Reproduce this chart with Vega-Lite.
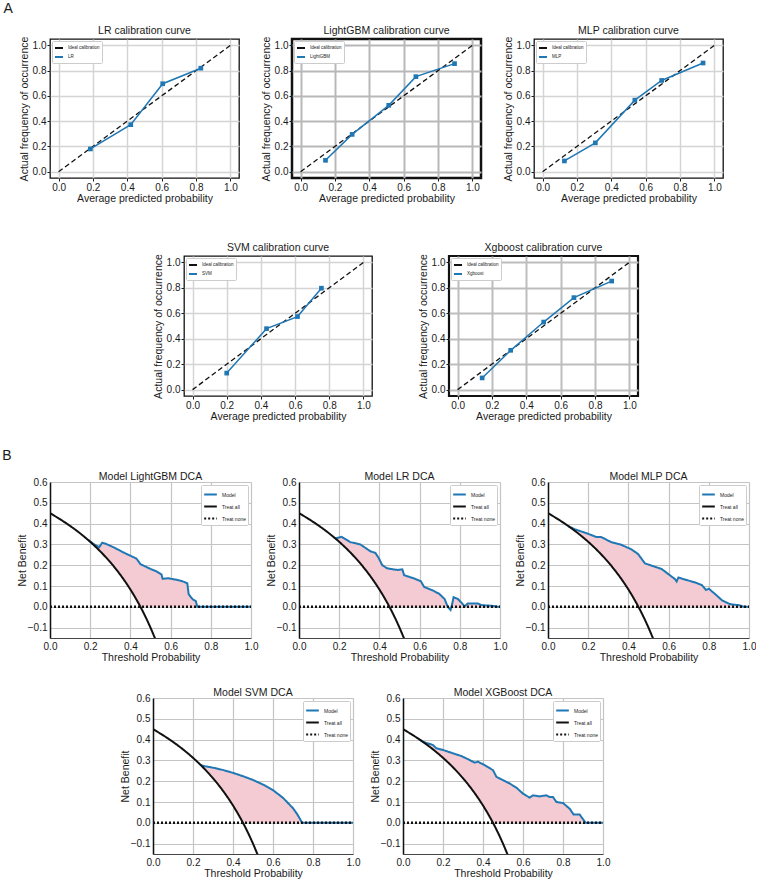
{
  "$schema": "https://vega.github.io/schema/vega-lite/v6.json",
  "padding": {"left": 2, "top": 2, "right": 0, "bottom": 0},
  "config": {
    "font": "Liberation Sans",
    "view": {"stroke": null},
    "title": {"fontSize": 10.5, "fontWeight": "normal", "color": "#1a1a1a", "offset": 3, "dy": 3, "frame": "group"},
    "axis": {
      "labelFontSize": 10, "labelColor": "#1a1a1a", "titleFontSize": 10.5, "titleFontWeight": "normal",
      "titleColor": "#1a1a1a", "tickColor": "#1a1a1a", "tickSize": 3, "labelPadding": 1,
      "gridColor": "#d0d0d0", "gridWidth": 1.3, "domain": false, "labelFlush": false, "labelOverlap": false
    },
    "axisY": {"titlePadding": 3},
    "axisX": {"titlePadding": 1},
    "legend": {
      "labelFontSize": 4.5, "labelColor": "#222222", "symbolType": "stroke", "symbolStrokeWidth": 2,
      "padding": 2, "rowPadding": 0, "strokeColor": "#cccccc", "fillColor": "white", "offset": 2,
      "cornerRadius": 1, "labelLimit": 200, "symbolSize": 64
    }
  },
  "datasets": {
    "ideal": [{"p": 0, "f": 0}, {"p": 1, "f": 1}],
    "cal_lr": [{"p": 0.185, "f": 0.18}, {"p": 0.42, "f": 0.372}, {"p": 0.606, "f": 0.696}, {"p": 0.828, "f": 0.819}],
    "cal_lgbm": [{"p": 0.145, "f": 0.09}, {"p": 0.3, "f": 0.295}, {"p": 0.513, "f": 0.525}, {"p": 0.671, "f": 0.752}, {"p": 0.896, "f": 0.855}],
    "cal_mlp": [{"p": 0.127, "f": 0.085}, {"p": 0.307, "f": 0.228}, {"p": 0.537, "f": 0.566}, {"p": 0.693, "f": 0.722}, {"p": 0.934, "f": 0.86}],
    "cal_svm": [{"p": 0.2, "f": 0.13}, {"p": 0.433, "f": 0.479}, {"p": 0.614, "f": 0.574}, {"p": 0.754, "f": 0.797}],
    "cal_xgb": [{"p": 0.143, "f": 0.092}, {"p": 0.309, "f": 0.309}, {"p": 0.501, "f": 0.531}, {"p": 0.677, "f": 0.723}, {"p": 0.897, "f": 0.853}],
    "treatall": [
      {"t": 0, "nb": 0.45}, {"t": 0.02, "nb": 0.4388}, {"t": 0.04, "nb": 0.4271}, {"t": 0.06, "nb": 0.4149},
      {"t": 0.08, "nb": 0.4022}, {"t": 0.1, "nb": 0.3889}, {"t": 0.12, "nb": 0.375}, {"t": 0.14, "nb": 0.3605},
      {"t": 0.16, "nb": 0.3452}, {"t": 0.18, "nb": 0.3293}, {"t": 0.2, "nb": 0.3125}, {"t": 0.22, "nb": 0.2949},
      {"t": 0.24, "nb": 0.2763}, {"t": 0.26, "nb": 0.2568}, {"t": 0.28, "nb": 0.2361}, {"t": 0.3, "nb": 0.2143},
      {"t": 0.32, "nb": 0.1912}, {"t": 0.34, "nb": 0.1667}, {"t": 0.36, "nb": 0.1406}, {"t": 0.38, "nb": 0.1129},
      {"t": 0.4, "nb": 0.0833}, {"t": 0.42, "nb": 0.0517}, {"t": 0.44, "nb": 0.0179}, {"t": 0.46, "nb": -0.0185},
      {"t": 0.48, "nb": -0.0577}, {"t": 0.5, "nb": -0.1}, {"t": 0.52, "nb": -0.1458}, {"t": 0.53, "nb": -0.1702}
    ],
    "treatnone": [{"t": 0, "nb": 0}, {"t": 1, "nb": 0}],
    "dca_lgbm": [
      {"t": 0.19, "nb": 0.321, "base": 0.321}, {"t": 0.22, "nb": 0.3, "base": 0.2949}, {"t": 0.245, "nb": 0.287, "base": 0.2715},
      {"t": 0.26, "nb": 0.308, "base": 0.2568}, {"t": 0.28, "nb": 0.302, "base": 0.2361}, {"t": 0.325, "nb": 0.282, "base": 0.1852},
      {"t": 0.36, "nb": 0.264, "base": 0.1406}, {"t": 0.39, "nb": 0.25, "base": 0.0984}, {"t": 0.43, "nb": 0.232, "base": 0.0351},
      {"t": 0.45, "nb": 0.205, "base": 0}, {"t": 0.5, "nb": 0.182, "base": 0}, {"t": 0.53, "nb": 0.17, "base": 0},
      {"t": 0.555, "nb": 0.155, "base": 0}, {"t": 0.56, "nb": 0.135, "base": 0}, {"t": 0.59, "nb": 0.137, "base": 0},
      {"t": 0.64, "nb": 0.128, "base": 0}, {"t": 0.667, "nb": 0.12, "base": 0}, {"t": 0.683, "nb": 0.113, "base": 0},
      {"t": 0.69, "nb": 0.06, "base": 0}, {"t": 0.71, "nb": 0.036, "base": 0}, {"t": 0.725, "nb": 0.028, "base": 0},
      {"t": 0.733, "nb": 0, "base": 0}, {"t": 1, "nb": 0, "base": 0}
    ],
    "dca_lr": [
      {"t": 0.18, "nb": 0.329, "base": 0.3293}, {"t": 0.213, "nb": 0.336, "base": 0.3011}, {"t": 0.255, "nb": 0.311, "base": 0.2617},
      {"t": 0.305, "nb": 0.3, "base": 0.2086}, {"t": 0.355, "nb": 0.267, "base": 0.1473}, {"t": 0.38, "nb": 0.259, "base": 0.1129},
      {"t": 0.397, "nb": 0.234, "base": 0.0879}, {"t": 0.414, "nb": 0.2, "base": 0.0614}, {"t": 0.439, "nb": 0.185, "base": 0.0196},
      {"t": 0.45, "nb": 0.183, "base": 0}, {"t": 0.49, "nb": 0.177, "base": 0}, {"t": 0.514, "nb": 0.18, "base": 0},
      {"t": 0.523, "nb": 0.152, "base": 0}, {"t": 0.573, "nb": 0.136, "base": 0}, {"t": 0.606, "nb": 0.123, "base": 0},
      {"t": 0.623, "nb": 0.095, "base": 0}, {"t": 0.665, "nb": 0.079, "base": 0}, {"t": 0.698, "nb": 0.062, "base": 0},
      {"t": 0.724, "nb": 0.038, "base": 0}, {"t": 0.74, "nb": 0, "base": 0}, {"t": 0.754, "nb": -0.015, "base": 0},
      {"t": 0.762, "nb": 0.013, "base": 0}, {"t": 0.769, "nb": 0.046, "base": 0}, {"t": 0.79, "nb": 0.038, "base": 0},
      {"t": 0.807, "nb": 0.021, "base": 0}, {"t": 0.824, "nb": 0.002, "base": 0}, {"t": 0.84, "nb": 0.016, "base": 0},
      {"t": 0.89, "nb": 0.016, "base": 0}, {"t": 0.908, "nb": 0.008, "base": 0}, {"t": 0.958, "nb": 0.005, "base": 0},
      {"t": 0.99, "nb": 0, "base": 0}, {"t": 1, "nb": 0, "base": 0}
    ],
    "dca_mlp": [
      {"t": 0.1, "nb": 0.389, "base": 0.3889}, {"t": 0.13, "nb": 0.374, "base": 0.3678}, {"t": 0.197, "nb": 0.352, "base": 0.3151},
      {"t": 0.239, "nb": 0.336, "base": 0.2773}, {"t": 0.264, "nb": 0.336, "base": 0.2527}, {"t": 0.314, "nb": 0.311, "base": 0.1983},
      {"t": 0.365, "nb": 0.298, "base": 0.1339}, {"t": 0.415, "nb": 0.276, "base": 0.0598}, {"t": 0.448, "nb": 0.254, "base": 0.0036},
      {"t": 0.482, "nb": 0.209, "base": 0}, {"t": 0.515, "nb": 0.198, "base": 0}, {"t": 0.565, "nb": 0.182, "base": 0},
      {"t": 0.599, "nb": 0.157, "base": 0}, {"t": 0.632, "nb": 0.133, "base": 0}, {"t": 0.64, "nb": 0.122, "base": 0},
      {"t": 0.649, "nb": 0.141, "base": 0}, {"t": 0.674, "nb": 0.133, "base": 0}, {"t": 0.732, "nb": 0.117, "base": 0},
      {"t": 0.766, "nb": 0.104, "base": 0}, {"t": 0.786, "nb": 0.081, "base": 0}, {"t": 0.8, "nb": 0.087, "base": 0},
      {"t": 0.833, "nb": 0.06, "base": 0}, {"t": 0.866, "nb": 0.031, "base": 0}, {"t": 0.9, "nb": 0.015, "base": 0},
      {"t": 0.916, "nb": 0.011, "base": 0}, {"t": 0.95, "nb": 0.008, "base": 0}, {"t": 0.975, "nb": 0, "base": 0},
      {"t": 1, "nb": 0, "base": 0}
    ],
    "dca_svm": [
      {"t": 0.24, "nb": 0.2763, "base": 0.2763}, {"t": 0.26, "nb": 0.272, "base": 0.2568}, {"t": 0.3, "nb": 0.265, "base": 0.2143},
      {"t": 0.35, "nb": 0.254, "base": 0.1538}, {"t": 0.4, "nb": 0.24, "base": 0.0833}, {"t": 0.45, "nb": 0.224, "base": 0},
      {"t": 0.5, "nb": 0.206, "base": 0}, {"t": 0.55, "nb": 0.184, "base": 0}, {"t": 0.6, "nb": 0.157, "base": 0},
      {"t": 0.65, "nb": 0.12, "base": 0}, {"t": 0.7, "nb": 0.07, "base": 0}, {"t": 0.72, "nb": 0.043, "base": 0},
      {"t": 0.74, "nb": 0.01, "base": 0}, {"t": 0.745, "nb": 0, "base": 0}, {"t": 1, "nb": 0, "base": 0}
    ],
    "dca_xgb": [
      {"t": 0.08, "nb": 0.402, "base": 0.4022}, {"t": 0.1, "nb": 0.389, "base": 0.3889}, {"t": 0.15, "nb": 0.374, "base": 0.3529},
      {"t": 0.167, "nb": 0.358, "base": 0.3397}, {"t": 0.2, "nb": 0.35, "base": 0.3125}, {"t": 0.25, "nb": 0.334, "base": 0.2667},
      {"t": 0.292, "nb": 0.321, "base": 0.2232}, {"t": 0.333, "nb": 0.302, "base": 0.1754}, {"t": 0.358, "nb": 0.289, "base": 0.1433},
      {"t": 0.375, "nb": 0.294, "base": 0.12}, {"t": 0.408, "nb": 0.277, "base": 0.071}, {"t": 0.45, "nb": 0.253, "base": 0},
      {"t": 0.467, "nb": 0.221, "base": 0}, {"t": 0.5, "nb": 0.205, "base": 0}, {"t": 0.533, "nb": 0.189, "base": 0},
      {"t": 0.567, "nb": 0.169, "base": 0}, {"t": 0.6, "nb": 0.14, "base": 0}, {"t": 0.633, "nb": 0.121, "base": 0},
      {"t": 0.65, "nb": 0.132, "base": 0}, {"t": 0.683, "nb": 0.127, "base": 0}, {"t": 0.717, "nb": 0.132, "base": 0},
      {"t": 0.733, "nb": 0.124, "base": 0}, {"t": 0.75, "nb": 0.124, "base": 0}, {"t": 0.767, "nb": 0.1, "base": 0},
      {"t": 0.8, "nb": 0.095, "base": 0}, {"t": 0.833, "nb": 0.068, "base": 0}, {"t": 0.853, "nb": 0.04, "base": 0},
      {"t": 0.883, "nb": 0.04, "base": 0}, {"t": 0.913, "nb": 0, "base": 0}, {"t": 1, "nb": 0, "base": 0}
    ]
  },
  "resolve": {
    "scale": {"x": "independent", "y": "independent", "color": "independent", "strokeDash": "independent"},
    "axis": {"x": "independent", "y": "independent"},
    "legend": {"color": "independent", "strokeDash": "independent"}
  },
  "spacing": 25,
  "vconcat": [
    {
      "title": {"text": "A", "anchor": "start", "frame": "bounds", "fontSize": 14, "fontWeight": "normal", "offset": 8, "dx": -15, "dy": 0},
      "resolve": {
        "scale": {"x": "independent", "y": "independent", "color": "independent", "strokeDash": "independent"},
        "axis": {"x": "independent", "y": "independent"},
        "legend": {"color": "independent", "strokeDash": "independent"}
      },
      "spacing": 37,
      "vconcat": [
        {
          "bounds": "flush",
          "spacing": 53,
          "resolve": {
            "scale": {"x": "independent", "y": "independent", "color": "independent", "strokeDash": "independent"},
            "axis": {"x": "independent", "y": "independent"},
            "legend": {"color": "independent", "strokeDash": "independent"}
          },
          "hconcat": [
            {
              "width": 189, "height": 139,
              "title": "LR calibration curve",
              "view": {"stroke": "#111111", "strokeWidth": 1.3},
              "layer": [
                {
                  "data": {"name": "ideal"},
                  "mark": {"type": "line", "strokeDash": [5, 3], "strokeWidth": 1.3},
                  "encoding": {
                    "x": {"field": "p", "type": "quantitative", "scale": {"domain": [-0.05, 1.05], "nice": false, "zero": false},
                      "axis": {"title": "Average predicted probability", "values": [0, 0.2, 0.4, 0.6, 0.8, 1], "tickCount": 12, "format": ".1f", "gridColor": "#d4d4d4", "gridWidth": 1.5}},
                    "y": {"field": "f", "type": "quantitative", "scale": {"domain": [-0.05, 1.05], "nice": false, "zero": false},
                      "axis": {"title": "Actual frequency of occurrence", "values": [0, 0.2, 0.4, 0.6, 0.8, 1], "tickCount": 12, "format": ".1f", "gridColor": "#d4d4d4", "gridWidth": 1.5}},
                    "color": {"datum": "Ideal calibration", "scale": {"domain": ["Ideal calibration", "LR"], "range": ["#111111", "#1f77b4"]},
                      "legend": {"title": null, "orient": "top-left"}}
                  }
                },
                {
                  "data": {"name": "cal_lr"},
                  "mark": {"type": "line", "strokeWidth": 1.5, "point": {"shape": "square", "size": 22, "filled": true}},
                  "encoding": {
                    "x": {"field": "p", "type": "quantitative"},
                    "y": {"field": "f", "type": "quantitative"},
                    "color": {"datum": "LR"}
                  }
                }
              ]
            },
            {
              "width": 189, "height": 139,
              "title": "LightGBM calibration curve",
              "view": {"stroke": "#111111", "strokeWidth": 2.5},
              "layer": [
                {
                  "data": {"name": "ideal"},
                  "mark": {"type": "line", "strokeDash": [5, 3], "strokeWidth": 1.3},
                  "encoding": {
                    "x": {"field": "p", "type": "quantitative", "scale": {"domain": [-0.05, 1.05], "nice": false, "zero": false},
                      "axis": {"title": "Average predicted probability", "values": [0, 0.2, 0.4, 0.6, 0.8, 1], "tickCount": 12, "format": ".1f", "gridColor": "#b8b8b8", "gridWidth": 2}},
                    "y": {"field": "f", "type": "quantitative", "scale": {"domain": [-0.05, 1.05], "nice": false, "zero": false},
                      "axis": {"title": "Actual frequency of occurrence", "values": [0, 0.2, 0.4, 0.6, 0.8, 1], "tickCount": 12, "format": ".1f", "gridColor": "#b8b8b8", "gridWidth": 2}},
                    "color": {"datum": "Ideal calibration", "scale": {"domain": ["Ideal calibration", "LightGBM"], "range": ["#111111", "#1f77b4"]},
                      "legend": {"title": null, "orient": "top-left"}}
                  }
                },
                {
                  "data": {"name": "cal_lgbm"},
                  "mark": {"type": "line", "strokeWidth": 1.5, "point": {"shape": "square", "size": 22, "filled": true}},
                  "encoding": {
                    "x": {"field": "p", "type": "quantitative"},
                    "y": {"field": "f", "type": "quantitative"},
                    "color": {"datum": "LightGBM"}
                  }
                }
              ]
            },
            {
              "width": 189, "height": 139,
              "title": "MLP calibration curve",
              "view": {"stroke": "#111111", "strokeWidth": 1.3},
              "layer": [
                {
                  "data": {"name": "ideal"},
                  "mark": {"type": "line", "strokeDash": [5, 3], "strokeWidth": 1.3},
                  "encoding": {
                    "x": {"field": "p", "type": "quantitative", "scale": {"domain": [-0.05, 1.05], "nice": false, "zero": false},
                      "axis": {"title": "Average predicted probability", "values": [0, 0.2, 0.4, 0.6, 0.8, 1], "tickCount": 12, "format": ".1f", "gridColor": "#d4d4d4", "gridWidth": 1.5}},
                    "y": {"field": "f", "type": "quantitative", "scale": {"domain": [-0.05, 1.05], "nice": false, "zero": false},
                      "axis": {"title": "Actual frequency of occurrence", "values": [0, 0.2, 0.4, 0.6, 0.8, 1], "tickCount": 12, "format": ".1f", "gridColor": "#d4d4d4", "gridWidth": 1.5}},
                    "color": {"datum": "Ideal calibration", "scale": {"domain": ["Ideal calibration", "MLP"], "range": ["#111111", "#1f77b4"]},
                      "legend": {"title": null, "orient": "top-left"}}
                  }
                },
                {
                  "data": {"name": "cal_mlp"},
                  "mark": {"type": "line", "strokeWidth": 1.5, "point": {"shape": "square", "size": 22, "filled": true}},
                  "encoding": {
                    "x": {"field": "p", "type": "quantitative"},
                    "y": {"field": "f", "type": "quantitative"},
                    "color": {"datum": "MLP"}
                  }
                }
              ]
            }
          ]
        },
        {
          "bounds": "flush",
          "spacing": 77,
          "resolve": {
            "scale": {"x": "independent", "y": "independent", "color": "independent", "strokeDash": "independent"},
            "axis": {"x": "independent", "y": "independent"},
            "legend": {"color": "independent", "strokeDash": "independent"}
          },
          "hconcat": [
            {
              "width": 57, "height": 140,
              "view": {"stroke": "transparent"},
              "data": {"values": [{}]},
              "mark": {"type": "point", "opacity": 0}
            },
            {
              "width": 188, "height": 140,
              "title": "SVM calibration curve",
              "view": {"stroke": "#111111", "strokeWidth": 1.3},
              "layer": [
                {
                  "data": {"name": "ideal"},
                  "mark": {"type": "line", "strokeDash": [5, 3], "strokeWidth": 1.3},
                  "encoding": {
                    "x": {"field": "p", "type": "quantitative", "scale": {"domain": [-0.05, 1.05], "nice": false, "zero": false},
                      "axis": {"title": "Average predicted probability", "values": [0, 0.2, 0.4, 0.6, 0.8, 1], "tickCount": 12, "format": ".1f", "gridColor": "#d4d4d4", "gridWidth": 1.5}},
                    "y": {"field": "f", "type": "quantitative", "scale": {"domain": [-0.05, 1.05], "nice": false, "zero": false},
                      "axis": {"title": "Actual frequency of occurrence", "values": [0, 0.2, 0.4, 0.6, 0.8, 1], "tickCount": 12, "format": ".1f", "gridColor": "#d4d4d4", "gridWidth": 1.5}},
                    "color": {"datum": "Ideal calibration", "scale": {"domain": ["Ideal calibration", "SVM"], "range": ["#111111", "#1f77b4"]},
                      "legend": {"title": null, "orient": "top-left"}}
                  }
                },
                {
                  "data": {"name": "cal_svm"},
                  "mark": {"type": "line", "strokeWidth": 1.5, "point": {"shape": "square", "size": 22, "filled": true}},
                  "encoding": {
                    "x": {"field": "p", "type": "quantitative"},
                    "y": {"field": "f", "type": "quantitative"},
                    "color": {"datum": "SVM"}
                  }
                }
              ]
            },
            {
              "width": 189, "height": 140,
              "title": "Xgboost calibration curve",
              "view": {"stroke": "#111111", "strokeWidth": 2.2},
              "layer": [
                {
                  "data": {"name": "ideal"},
                  "mark": {"type": "line", "strokeDash": [5, 3], "strokeWidth": 1.3},
                  "encoding": {
                    "x": {"field": "p", "type": "quantitative", "scale": {"domain": [-0.05, 1.05], "nice": false, "zero": false},
                      "axis": {"title": "Average predicted probability", "values": [0, 0.2, 0.4, 0.6, 0.8, 1], "tickCount": 12, "format": ".1f", "gridColor": "#bdbdbd", "gridWidth": 2}},
                    "y": {"field": "f", "type": "quantitative", "scale": {"domain": [-0.05, 1.05], "nice": false, "zero": false},
                      "axis": {"title": "Actual frequency of occurrence", "values": [0, 0.2, 0.4, 0.6, 0.8, 1], "tickCount": 12, "format": ".1f", "gridColor": "#bdbdbd", "gridWidth": 2}},
                    "color": {"datum": "Ideal calibration", "scale": {"domain": ["Ideal calibration", "Xgboost"], "range": ["#111111", "#1f77b4"]},
                      "legend": {"title": null, "orient": "top-left"}}
                  }
                },
                {
                  "data": {"name": "cal_xgb"},
                  "mark": {"type": "line", "strokeWidth": 1.5, "point": {"shape": "square", "size": 22, "filled": true}},
                  "encoding": {
                    "x": {"field": "p", "type": "quantitative"},
                    "y": {"field": "f", "type": "quantitative"},
                    "color": {"datum": "Xgboost"}
                  }
                }
              ]
            }
          ]
        }
      ]
    },
    {
      "title": {"text": "B", "anchor": "start", "frame": "bounds", "fontSize": 14, "fontWeight": "normal", "offset": 9, "dx": -15, "dy": 0},
      "resolve": {
        "scale": {"x": "independent", "y": "independent", "color": "independent", "strokeDash": "independent"},
        "axis": {"x": "independent", "y": "independent"},
        "legend": {"color": "independent", "strokeDash": "independent"}
      },
      "spacing": 24,
      "vconcat": [
        {
          "bounds": "flush",
          "spacing": 48,
          "resolve": {
            "scale": {"x": "independent", "y": "independent", "color": "independent", "strokeDash": "independent"},
            "axis": {"x": "independent", "y": "independent"},
            "legend": {"color": "independent", "strokeDash": "independent"}
          },
          "hconcat": [
            {
              "width": 201, "height": 156,
              "title": {"text": "Model LightGBM DCA", "offset": 1, "dy": 6},
              "layer": [
                {
                  "data": {"name": "dca_lgbm"},
                  "mark": {"type": "area", "color": "#f4cbd3"},
                  "encoding": {
                    "x": {"field": "t", "type": "quantitative", "scale": {"domain": [0, 1], "nice": false},
                      "axis": {"title": "Threshold Probability", "values": [0, 0.2, 0.4, 0.6, 0.8, 1], "tickCount": 12, "format": ".1f", "tickSize": 0, "labelPadding": 3, "titlePadding": 1, "gridColor": "#c4c4c4", "gridWidth": 1.2, "domain": true, "domainColor": "#444444", "domainWidth": 1.2}},
                    "y": {"field": "nb", "type": "quantitative", "scale": {"domain": [-0.15, 0.6], "nice": false, "zero": false},
                      "axis": {"title": "Net Benefit", "values": [-0.1, 0, 0.1, 0.2, 0.3, 0.4, 0.5, 0.6], "tickCount": 12, "format": ".1f", "tickSize": 0, "labelPadding": 3, "titlePadding": 0, "gridColor": "#c4c4c4", "gridWidth": 1.2, "domain": true, "domainColor": "#111111", "domainWidth": 1.5}},
                    "y2": {"field": "base"}
                  }
                },
                {
                  "data": {"name": "dca_lgbm"},
                  "mark": {"type": "line", "strokeWidth": 2},
                  "encoding": {
                    "x": {"field": "t", "type": "quantitative"},
                    "y": {"field": "nb", "type": "quantitative"},
                    "color": {"datum": "Model", "scale": {"domain": ["Model", "Treat all", "Treat none"], "range": ["#1f77b4", "#111111", "#111111"]},
                      "legend": {"title": null, "orient": "top-right", "labelFontSize": 5, "symbolSize": 160, "offset": 3}},
                    "strokeDash": {"datum": "Model", "scale": {"domain": ["Model", "Treat all", "Treat none"], "range": [[1, 0], [1, 0], [2, 2]]},
                      "legend": {"title": null, "orient": "top-right", "labelFontSize": 5, "symbolSize": 160, "offset": 3}}
                  }
                },
                {
                  "data": {"name": "treatall"},
                  "mark": {"type": "line", "strokeWidth": 2, "clip": true},
                  "encoding": {
                    "x": {"field": "t", "type": "quantitative"},
                    "y": {"field": "nb", "type": "quantitative"},
                    "color": {"datum": "Treat all"},
                    "strokeDash": {"datum": "Treat all"}
                  }
                },
                {
                  "data": {"name": "treatnone"},
                  "mark": {"type": "line", "strokeWidth": 2.5},
                  "encoding": {
                    "x": {"field": "t", "type": "quantitative"},
                    "y": {"field": "nb", "type": "quantitative"},
                    "color": {"datum": "Treat none"},
                    "strokeDash": {"datum": "Treat none"}
                  }
                }
              ]
            },
            {
              "width": 201, "height": 156,
              "title": {"text": "Model LR DCA", "offset": 1, "dy": 6},
              "layer": [
                {
                  "data": {"name": "dca_lr"},
                  "mark": {"type": "area", "color": "#f4cbd3"},
                  "encoding": {
                    "x": {"field": "t", "type": "quantitative", "scale": {"domain": [0, 1], "nice": false},
                      "axis": {"title": "Threshold Probability", "values": [0, 0.2, 0.4, 0.6, 0.8, 1], "tickCount": 12, "format": ".1f", "tickSize": 0, "labelPadding": 3, "titlePadding": 1, "gridColor": "#c4c4c4", "gridWidth": 1.2, "domain": true, "domainColor": "#444444", "domainWidth": 1.2}},
                    "y": {"field": "nb", "type": "quantitative", "scale": {"domain": [-0.15, 0.6], "nice": false, "zero": false},
                      "axis": {"title": "Net Benefit", "values": [-0.1, 0, 0.1, 0.2, 0.3, 0.4, 0.5, 0.6], "tickCount": 12, "format": ".1f", "tickSize": 0, "labelPadding": 3, "titlePadding": 0, "gridColor": "#c4c4c4", "gridWidth": 1.2, "domain": true, "domainColor": "#111111", "domainWidth": 1.5}},
                    "y2": {"field": "base"}
                  }
                },
                {
                  "data": {"name": "dca_lr"},
                  "mark": {"type": "line", "strokeWidth": 2},
                  "encoding": {
                    "x": {"field": "t", "type": "quantitative"},
                    "y": {"field": "nb", "type": "quantitative"},
                    "color": {"datum": "Model", "scale": {"domain": ["Model", "Treat all", "Treat none"], "range": ["#1f77b4", "#111111", "#111111"]},
                      "legend": {"title": null, "orient": "top-right", "labelFontSize": 5, "symbolSize": 160, "offset": 3}},
                    "strokeDash": {"datum": "Model", "scale": {"domain": ["Model", "Treat all", "Treat none"], "range": [[1, 0], [1, 0], [2, 2]]},
                      "legend": {"title": null, "orient": "top-right", "labelFontSize": 5, "symbolSize": 160, "offset": 3}}
                  }
                },
                {
                  "data": {"name": "treatall"},
                  "mark": {"type": "line", "strokeWidth": 2, "clip": true},
                  "encoding": {
                    "x": {"field": "t", "type": "quantitative"},
                    "y": {"field": "nb", "type": "quantitative"},
                    "color": {"datum": "Treat all"},
                    "strokeDash": {"datum": "Treat all"}
                  }
                },
                {
                  "data": {"name": "treatnone"},
                  "mark": {"type": "line", "strokeWidth": 2.5},
                  "encoding": {
                    "x": {"field": "t", "type": "quantitative"},
                    "y": {"field": "nb", "type": "quantitative"},
                    "color": {"datum": "Treat none"},
                    "strokeDash": {"datum": "Treat none"}
                  }
                }
              ]
            },
            {
              "width": 201, "height": 156,
              "title": {"text": "Model MLP DCA", "offset": 1, "dy": 6},
              "layer": [
                {
                  "data": {"name": "dca_mlp"},
                  "mark": {"type": "area", "color": "#f4cbd3"},
                  "encoding": {
                    "x": {"field": "t", "type": "quantitative", "scale": {"domain": [0, 1], "nice": false},
                      "axis": {"title": "Threshold Probability", "values": [0, 0.2, 0.4, 0.6, 0.8, 1], "tickCount": 12, "format": ".1f", "tickSize": 0, "labelPadding": 3, "titlePadding": 1, "gridColor": "#c4c4c4", "gridWidth": 1.2, "domain": true, "domainColor": "#444444", "domainWidth": 1.2}},
                    "y": {"field": "nb", "type": "quantitative", "scale": {"domain": [-0.15, 0.6], "nice": false, "zero": false},
                      "axis": {"title": "Net Benefit", "values": [-0.1, 0, 0.1, 0.2, 0.3, 0.4, 0.5, 0.6], "tickCount": 12, "format": ".1f", "tickSize": 0, "labelPadding": 3, "titlePadding": 0, "gridColor": "#c4c4c4", "gridWidth": 1.2, "domain": true, "domainColor": "#111111", "domainWidth": 1.5}},
                    "y2": {"field": "base"}
                  }
                },
                {
                  "data": {"name": "dca_mlp"},
                  "mark": {"type": "line", "strokeWidth": 2},
                  "encoding": {
                    "x": {"field": "t", "type": "quantitative"},
                    "y": {"field": "nb", "type": "quantitative"},
                    "color": {"datum": "Model", "scale": {"domain": ["Model", "Treat all", "Treat none"], "range": ["#1f77b4", "#111111", "#111111"]},
                      "legend": {"title": null, "orient": "top-right", "labelFontSize": 5, "symbolSize": 160, "offset": 3}},
                    "strokeDash": {"datum": "Model", "scale": {"domain": ["Model", "Treat all", "Treat none"], "range": [[1, 0], [1, 0], [2, 2]]},
                      "legend": {"title": null, "orient": "top-right", "labelFontSize": 5, "symbolSize": 160, "offset": 3}}
                  }
                },
                {
                  "data": {"name": "treatall"},
                  "mark": {"type": "line", "strokeWidth": 2, "clip": true},
                  "encoding": {
                    "x": {"field": "t", "type": "quantitative"},
                    "y": {"field": "nb", "type": "quantitative"},
                    "color": {"datum": "Treat all"},
                    "strokeDash": {"datum": "Treat all"}
                  }
                },
                {
                  "data": {"name": "treatnone"},
                  "mark": {"type": "line", "strokeWidth": 2.5},
                  "encoding": {
                    "x": {"field": "t", "type": "quantitative"},
                    "y": {"field": "nb", "type": "quantitative"},
                    "color": {"datum": "Treat none"},
                    "strokeDash": {"datum": "Treat none"}
                  }
                }
              ]
            }
          ]
        },
        {
          "bounds": "flush",
          "spacing": 50,
          "resolve": {
            "scale": {"x": "independent", "y": "independent", "color": "independent", "strokeDash": "independent"},
            "axis": {"x": "independent", "y": "independent"},
            "legend": {"color": "independent", "strokeDash": "independent"}
          },
          "hconcat": [
            {
              "width": 53, "height": 156,
              "view": {"stroke": "transparent"},
              "data": {"values": [{}]},
              "mark": {"type": "point", "opacity": 0}
            },
            {
              "width": 200, "height": 156,
              "title": {"text": "Model SVM DCA", "offset": 1, "dy": 6},
              "layer": [
                {
                  "data": {"name": "dca_svm"},
                  "mark": {"type": "area", "color": "#f4cbd3"},
                  "encoding": {
                    "x": {"field": "t", "type": "quantitative", "scale": {"domain": [0, 1], "nice": false},
                      "axis": {"title": "Threshold Probability", "values": [0, 0.2, 0.4, 0.6, 0.8, 1], "tickCount": 12, "format": ".1f", "tickSize": 0, "labelPadding": 3, "titlePadding": 1, "gridColor": "#c4c4c4", "gridWidth": 1.2, "domain": true, "domainColor": "#444444", "domainWidth": 1.2}},
                    "y": {"field": "nb", "type": "quantitative", "scale": {"domain": [-0.15, 0.6], "nice": false, "zero": false},
                      "axis": {"title": "Net Benefit", "values": [-0.1, 0, 0.1, 0.2, 0.3, 0.4, 0.5, 0.6], "tickCount": 12, "format": ".1f", "tickSize": 0, "labelPadding": 3, "titlePadding": 0, "gridColor": "#c4c4c4", "gridWidth": 1.2, "domain": true, "domainColor": "#111111", "domainWidth": 1.5}},
                    "y2": {"field": "base"}
                  }
                },
                {
                  "data": {"name": "dca_svm"},
                  "mark": {"type": "line", "strokeWidth": 2},
                  "encoding": {
                    "x": {"field": "t", "type": "quantitative"},
                    "y": {"field": "nb", "type": "quantitative"},
                    "color": {"datum": "Model", "scale": {"domain": ["Model", "Treat all", "Treat none"], "range": ["#1f77b4", "#111111", "#111111"]},
                      "legend": {"title": null, "orient": "top-right", "labelFontSize": 5, "symbolSize": 160, "offset": 3}},
                    "strokeDash": {"datum": "Model", "scale": {"domain": ["Model", "Treat all", "Treat none"], "range": [[1, 0], [1, 0], [2, 2]]},
                      "legend": {"title": null, "orient": "top-right", "labelFontSize": 5, "symbolSize": 160, "offset": 3}}
                  }
                },
                {
                  "data": {"name": "treatall"},
                  "mark": {"type": "line", "strokeWidth": 2, "clip": true},
                  "encoding": {
                    "x": {"field": "t", "type": "quantitative"},
                    "y": {"field": "nb", "type": "quantitative"},
                    "color": {"datum": "Treat all"},
                    "strokeDash": {"datum": "Treat all"}
                  }
                },
                {
                  "data": {"name": "treatnone"},
                  "mark": {"type": "line", "strokeWidth": 2.5},
                  "encoding": {
                    "x": {"field": "t", "type": "quantitative"},
                    "y": {"field": "nb", "type": "quantitative"},
                    "color": {"datum": "Treat none"},
                    "strokeDash": {"datum": "Treat none"}
                  }
                }
              ]
            },
            {
              "width": 200, "height": 156,
              "title": {"text": "Model XGBoost DCA", "offset": 1, "dy": 6},
              "layer": [
                {
                  "data": {"name": "dca_xgb"},
                  "mark": {"type": "area", "color": "#f4cbd3"},
                  "encoding": {
                    "x": {"field": "t", "type": "quantitative", "scale": {"domain": [0, 1], "nice": false},
                      "axis": {"title": "Threshold Probability", "values": [0, 0.2, 0.4, 0.6, 0.8, 1], "tickCount": 12, "format": ".1f", "tickSize": 0, "labelPadding": 3, "titlePadding": 1, "gridColor": "#c4c4c4", "gridWidth": 1.2, "domain": true, "domainColor": "#444444", "domainWidth": 1.2}},
                    "y": {"field": "nb", "type": "quantitative", "scale": {"domain": [-0.15, 0.6], "nice": false, "zero": false},
                      "axis": {"title": "Net Benefit", "values": [-0.1, 0, 0.1, 0.2, 0.3, 0.4, 0.5, 0.6], "tickCount": 12, "format": ".1f", "tickSize": 0, "labelPadding": 3, "titlePadding": 0, "gridColor": "#c4c4c4", "gridWidth": 1.2, "domain": true, "domainColor": "#111111", "domainWidth": 1.5}},
                    "y2": {"field": "base"}
                  }
                },
                {
                  "data": {"name": "dca_xgb"},
                  "mark": {"type": "line", "strokeWidth": 2},
                  "encoding": {
                    "x": {"field": "t", "type": "quantitative"},
                    "y": {"field": "nb", "type": "quantitative"},
                    "color": {"datum": "Model", "scale": {"domain": ["Model", "Treat all", "Treat none"], "range": ["#1f77b4", "#111111", "#111111"]},
                      "legend": {"title": null, "orient": "top-right", "labelFontSize": 5, "symbolSize": 160, "offset": 3}},
                    "strokeDash": {"datum": "Model", "scale": {"domain": ["Model", "Treat all", "Treat none"], "range": [[1, 0], [1, 0], [2, 2]]},
                      "legend": {"title": null, "orient": "top-right", "labelFontSize": 5, "symbolSize": 160, "offset": 3}}
                  }
                },
                {
                  "data": {"name": "treatall"},
                  "mark": {"type": "line", "strokeWidth": 2, "clip": true},
                  "encoding": {
                    "x": {"field": "t", "type": "quantitative"},
                    "y": {"field": "nb", "type": "quantitative"},
                    "color": {"datum": "Treat all"},
                    "strokeDash": {"datum": "Treat all"}
                  }
                },
                {
                  "data": {"name": "treatnone"},
                  "mark": {"type": "line", "strokeWidth": 2.5},
                  "encoding": {
                    "x": {"field": "t", "type": "quantitative"},
                    "y": {"field": "nb", "type": "quantitative"},
                    "color": {"datum": "Treat none"},
                    "strokeDash": {"datum": "Treat none"}
                  }
                }
              ]
            }
          ]
        }
      ]
    }
  ]
}
